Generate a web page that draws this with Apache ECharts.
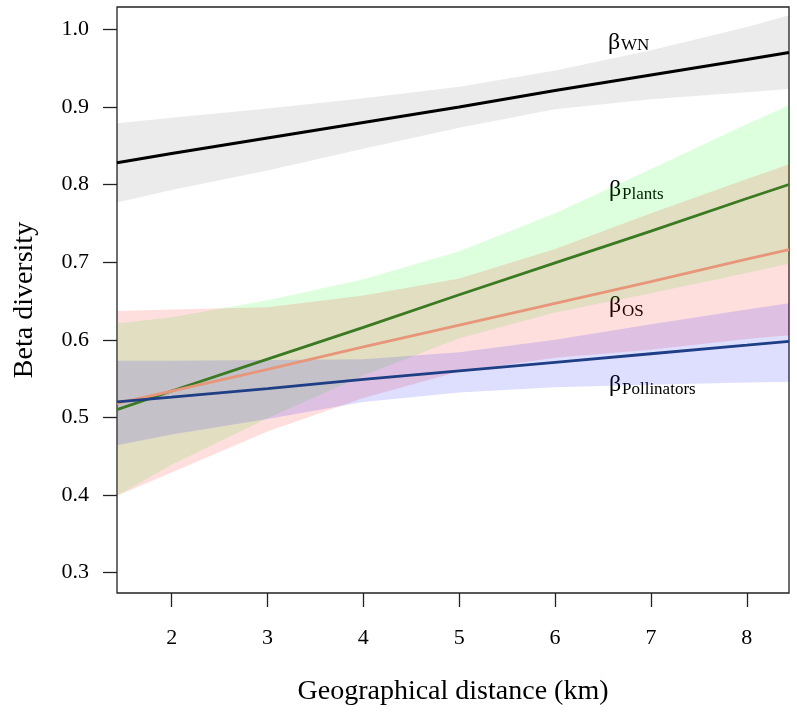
<!DOCTYPE html>
<html>
<head>
<meta charset="utf-8">
<script src="https://cdn.jsdelivr.net/npm/echarts@6/dist/echarts.min.js"></script>
<style>html,body{margin:0;padding:0;background:#fff;}#chart{width:797px;height:715px;}</style>
</head>
<body>
<div id="chart"></div>
<script>
// Geographical distance (km) sample points
const distance = [1.43, 2, 3, 4, 5, 6, 7, 8, 8.44];
// beta WN
const wnFit   = [0.828, 0.840, 0.860, 0.880, 0.900, 0.921, 0.941, 0.961, 0.970];
const wnUpper = [0.879, 0.886, 0.898, 0.911, 0.926, 0.947, 0.973, 1.003, 1.018];
const wnLower = [0.777, 0.793, 0.818, 0.846, 0.873, 0.897, 0.910, 0.919, 0.923];
// beta Plants
const plantsFit   = [0.510, 0.534, 0.575, 0.616, 0.658, 0.699, 0.740, 0.782, 0.800];
const plantsUpper = [0.621, 0.629, 0.651, 0.678, 0.714, 0.763, 0.820, 0.878, 0.902];
const plantsLower = [0.399, 0.439, 0.499, 0.554, 0.602, 0.635, 0.660, 0.686, 0.698];
// beta OS
const osFit   = [0.518, 0.534, 0.562, 0.591, 0.619, 0.647, 0.675, 0.704, 0.716];
const osUpper = [0.637, 0.639, 0.642, 0.657, 0.679, 0.717, 0.763, 0.807, 0.826];
const osLower = [0.399, 0.429, 0.482, 0.525, 0.559, 0.577, 0.587, 0.601, 0.606];
// beta Pollinators
const pollFit   = [0.520, 0.526, 0.537, 0.549, 0.560, 0.571, 0.582, 0.593, 0.598];
const pollUpper = [0.573, 0.573, 0.574, 0.575, 0.584, 0.600, 0.620, 0.639, 0.647];
const pollLower = [0.464, 0.478, 0.498, 0.520, 0.532, 0.539, 0.542, 0.545, 0.546];
// ticks
const xTicks = [2, 3, 4, 5, 6, 7, 8];
const yTicks = [0.3, 0.4, 0.5, 0.6, 0.7, 0.8, 0.9, 1.0];

const FONT = '"Liberation Serif", "DejaVu Serif", serif';

function band(upper, lower, color) {
  return {
    type: 'custom', silent: true, clip: true, z: 1,
    data: [[distance[0], upper[0]]],
    renderItem: function (params, api) {
      const pts = [];
      for (let i = 0; i < distance.length; i++) pts.push(api.coord([distance[i], upper[i]]));
      for (let i = distance.length - 1; i >= 0; i--) pts.push(api.coord([distance[i], lower[i]]));
      return { type: 'polygon', shape: { points: pts }, style: { fill: color } };
    }
  };
}
function fitLine(fit, color, width) {
  return {
    type: 'line', silent: true, z: 3, symbol: 'none', animation: false,
    data: distance.map((x, i) => [x, fit[i]]),
    lineStyle: { color: color, width: width }
  };
}

const chart = echarts.init(document.getElementById('chart'), null, { renderer: 'canvas' });
chart.setOption({
  animation: false,
  backgroundColor: '#fff',
  grid: { left: 117, right: 8, top: 7, bottom: 122, show: true, borderColor: '#222', borderWidth: 1.3, backgroundColor: 'transparent' },
  xAxis: {
    type: 'value', min: 1.43, max: 8.44,
    axisLine: { show: false }, splitLine: { show: false },
    axisTick: { show: true, length: 14, customValues: xTicks, lineStyle: { color: '#222', width: 1.3 } },
    axisLabel: { customValues: xTicks, margin: 34, fontSize: 22, fontFamily: FONT, color: '#000' }
  },
  yAxis: {
    type: 'value', min: 0.2738, max: 1.0287,
    axisLine: { show: false }, splitLine: { show: false },
    axisTick: { show: true, length: 14, customValues: yTicks, lineStyle: { color: '#222', width: 1.3 } },
    axisLabel: { customValues: yTicks, margin: 28, fontSize: 22, fontFamily: FONT, color: '#000',
      formatter: v => Number(v).toFixed(1) }
  },
  series: [
    band(wnUpper, wnLower, 'rgba(0,0,0,0.08)'),
    band(plantsUpper, plantsLower, 'rgba(0,255,0,0.13)'),
    band(osUpper, osLower, 'rgba(255,0,0,0.13)'),
    band(pollUpper, pollLower, 'rgba(0,0,255,0.13)'),
    fitLine(wnFit, '#000000', 3),
    fitLine(plantsFit, '#3a7a22', 2.8),
    fitLine(osFit, '#e8967a', 2.8),
    fitLine(pollFit, '#1e3f85', 2.8)
  ],
  graphic: [
    { type: 'text', x: 25, y: 300, rotation: Math.PI / 2,
      style: { text: 'Beta diversity', font: '28px ' + FONT, fill: '#000', align: 'center', verticalAlign: 'middle' } },
    { type: 'text', x: 453, y: 692,
      style: { text: 'Geographical distance (km)', font: '28px ' + FONT, fill: '#000', align: 'center', verticalAlign: 'middle' } },
    { type: 'text', x: 608, y: 43, style: { text: 'β', font: '24px ' + FONT, fill: '#000', verticalAlign: 'middle' } },
    { type: 'text', x: 621, y: 46, style: { text: 'WN', font: '17px ' + FONT, fill: '#000', verticalAlign: 'middle' } },
    { type: 'text', x: 609, y: 190, style: { text: 'β', font: '24px ' + FONT, fill: '#000', verticalAlign: 'middle' } },
    { type: 'text', x: 622, y: 195, style: { text: 'Plants', font: '17px ' + FONT, fill: '#000', verticalAlign: 'middle' } },
    { type: 'text', x: 609, y: 306, style: { text: 'β', font: '24px ' + FONT, fill: '#000', verticalAlign: 'middle' } },
    { type: 'text', x: 622, y: 312, style: { text: 'OS', font: '17px ' + FONT, fill: '#000', verticalAlign: 'middle' } },
    { type: 'text', x: 609, y: 385, style: { text: 'β', font: '24px ' + FONT, fill: '#000', verticalAlign: 'middle' } },
    { type: 'text', x: 622, y: 390, style: { text: 'Pollinators', font: '17px ' + FONT, fill: '#000', verticalAlign: 'middle' } }
  ]
});
</script>
</body>
</html>
